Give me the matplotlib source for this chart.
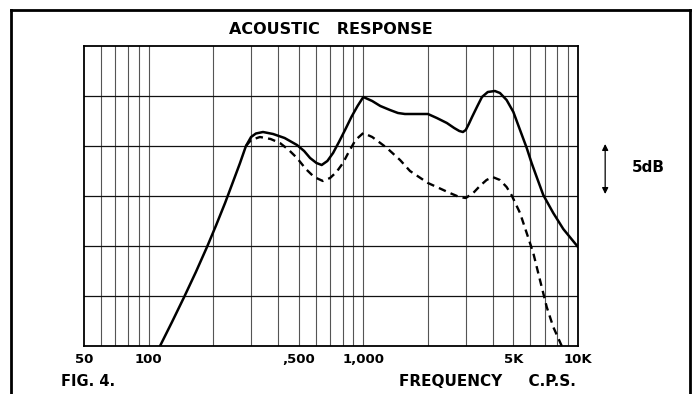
import matplotlib
matplotlib.use("Agg")
import matplotlib.pyplot as plt
from matplotlib.lines import Line2D

# values (frequency in c/s, response in dB above the floor)
solid_freq = [113, 128.5, 146, 166, 187, 206, 227, 247, 266, 284, 300, 316, 341, 380,
              430, 491, 530, 565, 605, 640, 680, 723, 770, 822, 880, 940, 1000, 1100,
              1200, 1331, 1450, 1563, 1800, 2000, 2200, 2450, 2650, 2800, 2910, 3000,
              3100, 3210, 3400, 3570, 3800, 4100, 4330, 4650, 5000, 5370, 5770, 6080,
              6420, 6890, 7670, 8540, 10000]
solid_db = [0.0, 2.4, 4.85, 7.4, 9.9, 12.05, 14.3, 16.4, 18.25, 20.0, 20.9, 21.25,
            21.4, 21.2, 20.8, 20.1, 19.5, 18.8, 18.3, 18.1, 18.5, 19.3, 20.4, 21.6,
            22.9, 24.0, 24.9, 24.5, 24.0, 23.6, 23.3, 23.2, 23.2, 23.2, 22.8, 22.3,
            21.8, 21.5, 21.4, 21.6, 22.2, 22.9, 24.0, 24.9, 25.4, 25.5, 25.3, 24.6,
            23.4, 21.6, 19.8, 18.3, 16.9, 15.1, 13.3, 11.7, 9.9]

dashed_freq = [284, 300, 330, 370, 409, 450, 491, 540, 590, 648, 700, 750, 804, 860,
               920, 1000, 1100, 1200, 1288, 1483, 1650, 2000, 2250, 2530, 2800, 3000,
               3250, 3490, 3750, 4000, 4330, 4650, 4900, 5370, 5850, 6190, 6650, 7150,
               7670, 8400]
dashed_db = [20.0, 20.6, 20.9, 20.7, 20.3, 19.6, 18.8, 17.7, 16.9, 16.5, 16.8, 17.4,
             18.3, 19.5, 20.6, 21.3, 20.9, 20.3, 19.8, 18.6, 17.5, 16.3, 15.8, 15.3,
             14.9, 14.8, 15.3, 16.0, 16.6, 16.9, 16.6, 15.9, 15.1, 13.3, 10.9, 9.3,
             6.6, 3.9, 1.9, 0.0]

tick_freq = [50, 100, 500, 1000, 5000, 10000]
tick_labels = ["50", "100", ",500", "1,000", "5K", "10K"]

grid_freq = [60, 70, 80, 90, 100, 200, 300, 400, 500, 600, 700, 800, 900, 1000,
             2000, 3000, 4000, 5000, 6000, 7000, 8000, 9000]
grid_db = [5, 10, 15, 20, 25]

W, H = 697, 394
fig = plt.figure(figsize=(W / 100, H / 100), dpi=100)
fig.patch.set_facecolor("white")

# plot area: x 84..578 px, y 46..346 px
ax = fig.add_axes([84 / W, 1 - 346 / H, (578 - 84) / W, (346 - 46) / H])
ax.set_xscale("log")
ax.set_xlim(50, 10000)
ax.set_ylim(0, 30)

for f in grid_freq:
    ax.axvline(f, color="#2a2a2a", lw=0.8, alpha=0.8, zorder=1)
for d in grid_db:
    ax.axhline(d, color="#111111", lw=0.9, zorder=1)

ax.plot(solid_freq, solid_db, color="black", lw=1.8, zorder=3,
        solid_capstyle="round", solid_joinstyle="round")
ax.plot(dashed_freq, dashed_db, color="black", lw=1.7, zorder=3,
        linestyle=(0, (3.2, 2.2)))

for s in ax.spines.values():
    s.set_linewidth(1.3)
    s.set_color("black")

ax.set_xticks(tick_freq)
ax.set_xticklabels(tick_labels)
ax.xaxis.set_minor_locator(plt.NullLocator())
ax.set_yticks([])
ax.tick_params(axis="x", length=0, pad=5, labelsize=9.5)
for lbl in ax.get_xticklabels():
    lbl.set_fontweight("bold")

# 5 dB scale marker to the right of the chart
ax.annotate("", xy=(1.055, 20.2), xytext=(1.055, 15.2),
            xycoords=("axes fraction", "data"), textcoords=("axes fraction", "data"),
            arrowprops=dict(arrowstyle="<|-|>", color="black", lw=0.9,
                            mutation_scale=9, shrinkA=0, shrinkB=0),
            annotation_clip=False)
fig.text(648 / W, 1 - 168 / H, "5dB", ha="center", va="center",
         fontsize=11, fontweight="bold")

fig.text(331 / W, 1 - 30 / H, "ACOUSTIC   RESPONSE", ha="center", va="center",
         fontsize=11.5, fontweight="bold")
fig.text(61 / W, 1 - 381 / H, "FIG. 4.", ha="left", va="center",
         fontsize=10.5, fontweight="bold")
fig.text(576 / W, 1 - 382 / H, "FREQUENCY     C.P.S.", ha="right", va="center",
         fontsize=11, fontweight="bold")

# outer frame of the printed figure (bottom edge is cut off in the scan)
frame_kw = dict(color="black", lw=2.0, transform=fig.transFigure)
fig.lines.append(Line2D([11 / W, 11 / W], [-0.02, 1 - 10 / H], **frame_kw))
fig.lines.append(Line2D([11 / W, 690 / W], [1 - 10 / H, 1 - 10 / H], **frame_kw))
fig.lines.append(Line2D([690 / W, 690 / W], [1 - 10 / H, -0.02], **frame_kw))

fig.savefig("out.png", dpi=100)
